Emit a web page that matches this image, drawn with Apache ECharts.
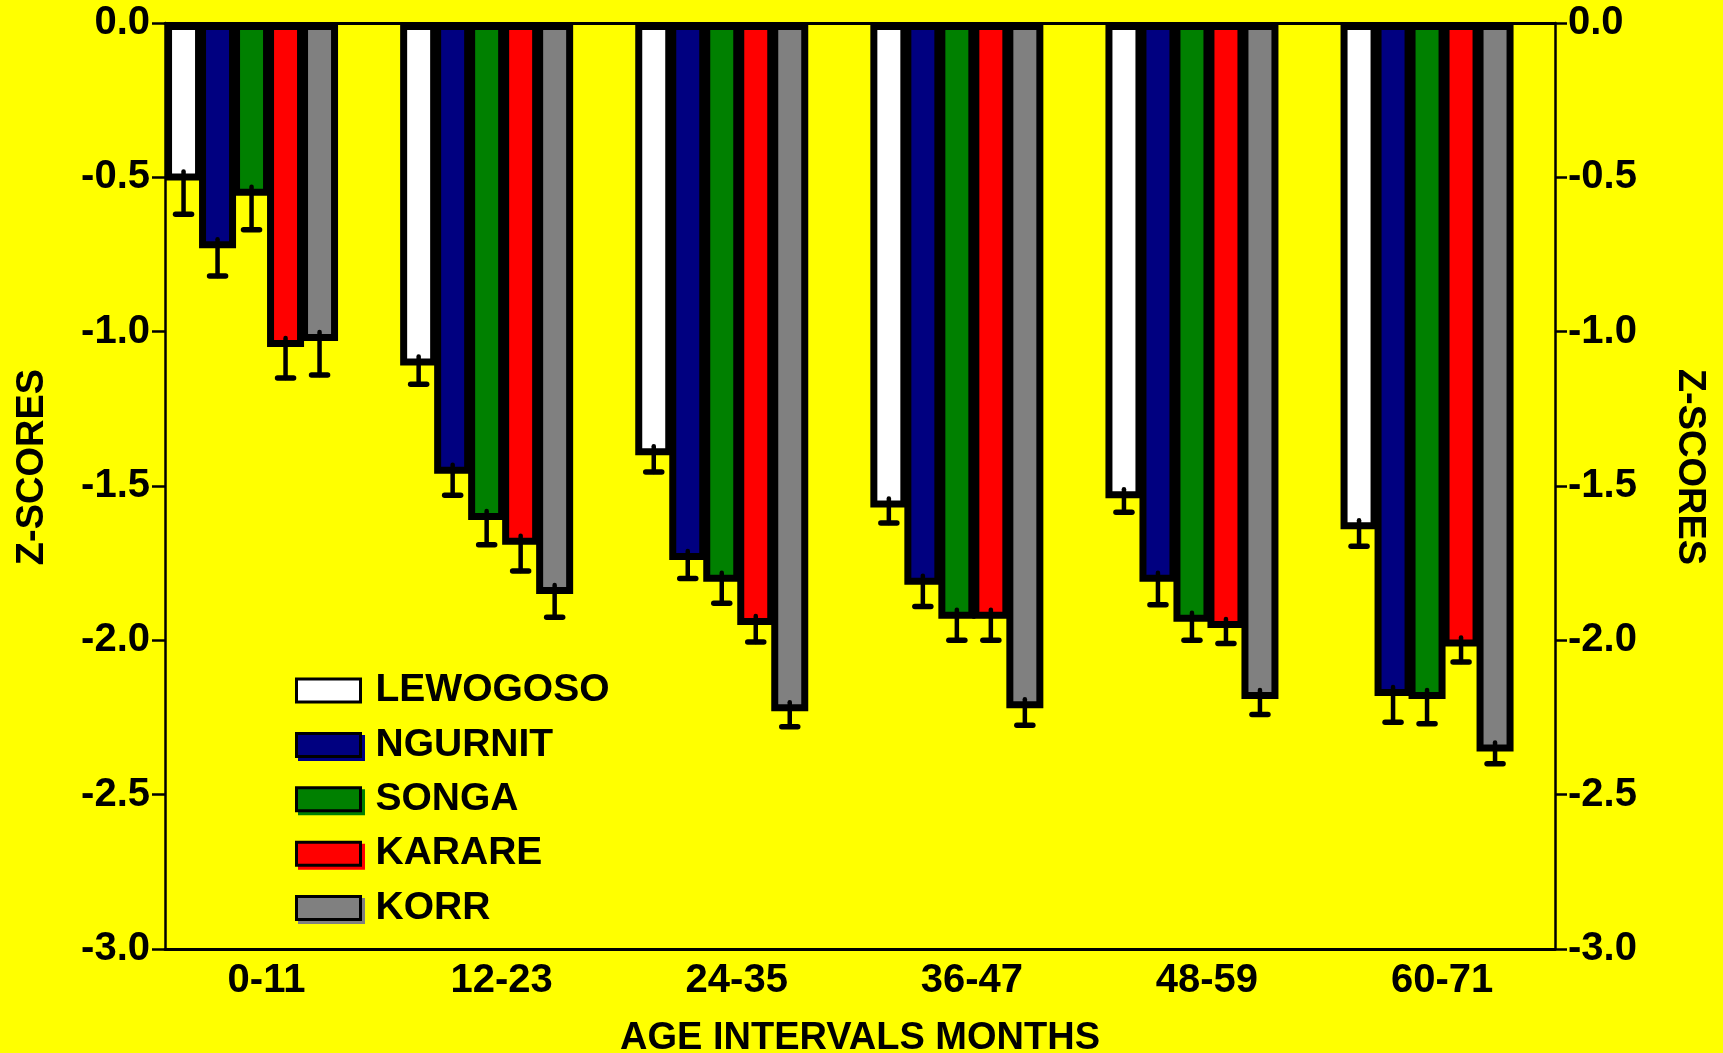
<!DOCTYPE html>
<html>
<head>
<meta charset="utf-8">
<script src="https://cdn.jsdelivr.net/npm/echarts@6/dist/echarts.min.js"></script>
<style>
html,body{margin:0;padding:0;background:#ffff00;}
#chart{width:1723px;height:1053px;}
</style>
</head>
<body>
<div id="chart"></div>
<script>
// ---------------- data ----------------
const categories = ['0-11', '12-23', '24-35', '36-47', '48-59', '60-71'];
const seriesNames = ['LEWOGOSO', 'NGURNIT', 'SONGA', 'KARARE', 'KORR'];

const lewogoso = [-0.51, -1.11, -1.40, -1.57, -1.54, -1.64];
const ngurnit  = [-0.73, -1.46, -1.74, -1.82, -1.81, -2.18];
const songa    = [-0.56, -1.61, -1.81, -1.93, -1.94, -2.19];
const karare   = [-1.05, -1.69, -1.95, -1.93, -1.96, -2.02];
const korr     = [-1.03, -1.85, -2.23, -2.22, -2.19, -2.36];

const lewogosoErr = [0.11, 0.06, 0.055, 0.05, 0.045, 0.055];
const ngurnitErr  = [0.09, 0.07, 0.06, 0.07, 0.075, 0.085];
const songaErr    = [0.11, 0.08, 0.07, 0.07, 0.06, 0.08];
const karareErr   = [0.10, 0.085, 0.055, 0.07, 0.05, 0.05];
const korrErr     = [0.11, 0.075, 0.05, 0.055, 0.05, 0.04];

const yMin = -3.0, yMax = 0.0, yStep = 0.5;

// ---------------- style ----------------
const colors = ['#ffffff', '#000080', '#008000', '#ff0000', '#808080'];
const FONT = '"Liberation Sans", Arial, Helvetica, sans-serif';
const BAR_W = 37, BAR_PITCH = 34;

const values = [lewogoso, ngurnit, songa, karare, korr];
const errors = [lewogosoErr, ngurnitErr, songaErr, karareErr, korrErr];

const barSeries = seriesNames.map((name, s) => ({
  name: name,
  type: 'bar',
  xAxisIndex: 0,
  yAxisIndex: 0,
  barWidth: BAR_W,
  barGap: ((BAR_PITCH - BAR_W) / BAR_W * 100).toFixed(3) + '%',
  data: values[s],
  itemStyle: { color: colors[s], borderColor: '#000', borderWidth: 7 },
  emphasis: { disabled: true },
  z: 2
}));

const errData = [];
values.forEach((arr, s) => arr.forEach((v, i) => errData.push([i, v, errors[s][i], s])));

const errSeries = {
  type: 'custom',
  xAxisIndex: 0,
  yAxisIndex: 0,
  data: errData,
  z: 5,
  clip: false,
  silent: true,
  renderItem: function (params, api) {
    const i = api.value(0), v = api.value(1), e = api.value(2), s = api.value(3);
    const top = api.coord([i, v]);
    const bot = api.coord([i, v - e]);
    const x = top[0] + (s - 2) * BAR_PITCH;
    return {
      type: 'group',
      children: [
        { type: 'line', shape: { x1: x, y1: top[1] - 9, x2: x, y2: bot[1] },
          style: { stroke: '#000', lineWidth: 4.5, lineCap: 'round' } },
        { type: 'line', shape: { x1: x - 8, y1: bot[1], x2: x + 8, y2: bot[1] },
          style: { stroke: '#000', lineWidth: 5.5, lineCap: 'round' } }
      ]
    };
  }
};

const tickLabelStyle = { fontFamily: FONT, fontWeight: 'bold', fontSize: 40, color: '#000' };
const titleStyle = { fontFamily: FONT, fontWeight: 'bold', fontSize: 38, color: '#000' };

const chart = echarts.init(document.getElementById('chart'), null, { renderer: 'canvas' });
chart.setOption({
  backgroundColor: '#ffff00',
  animation: false,
  grid: [
    { left: 134, right: 178.4, top: 23, bottom: 104, containLabel: false, outerBoundsMode: 'none' },   // bars
    { left: 165, right: 168, top: 23, bottom: 104, containLabel: false, outerBoundsMode: 'none' }      // frame & y axes
  ],
  legend: {
    orient: 'vertical',
    left: 295,
    top: 671,
    padding: 0,
    itemWidth: 64,
    itemHeight: 23,
    itemGap: 15.4,
    selectedMode: false,
    textStyle: { fontFamily: FONT, fontWeight: 'bold', fontSize: 39, color: '#000', padding: [0, 0, 0, 10] },
    data: seriesNames.map((n, s) => ({
      name: n,
      icon: 'rect',
      itemStyle: {
        color: colors[s], borderColor: '#000', borderWidth: 3,
        shadowColor: s === 0 ? 'rgba(0,0,0,0)' : colors[s], shadowBlur: 0,
        shadowOffsetX: 3, shadowOffsetY: 3
      }
    }))
  },
  xAxis: [
    {
      type: 'category', gridIndex: 0, data: categories, position: 'bottom',
      axisLine: { show: false, onZero: false }, axisTick: { show: false },
      splitLine: { show: false },
      axisLabel: Object.assign({ margin: 12, interval: 0, padding: [0, 0, 0, 30] }, tickLabelStyle)
    },
    {
      type: 'value', gridIndex: 1, min: 0, max: 1, position: 'bottom',
      axisLine: { show: true, onZero: false, lineStyle: { color: '#000', width: 3 } },
      axisTick: { show: false }, axisLabel: { show: false }, splitLine: { show: false },
      name: 'AGE INTERVALS MONTHS', nameLocation: 'middle', nameGap: 71,
      nameTextStyle: titleStyle
    },
    {
      type: 'value', gridIndex: 1, min: 0, max: 1, position: 'top',
      axisLine: { show: true, onZero: false, lineStyle: { color: '#000', width: 3 } },
      axisTick: { show: false }, axisLabel: { show: false }, splitLine: { show: false }
    }
  ],
  yAxis: [
    { type: 'value', gridIndex: 0, min: yMin, max: yMax, show: false },
    {
      type: 'value', gridIndex: 1, min: yMin, max: yMax, interval: yStep, position: 'left',
      axisLine: { show: true, onZero: false, lineStyle: { color: '#000', width: 2.5 } },
      axisTick: { show: true, length: 13, lineStyle: { color: '#000', width: 2.5 } },
      splitLine: { show: false },
      axisLabel: Object.assign({ margin: 15, formatter: v => v.toFixed(1) }, tickLabelStyle),
      name: 'Z-SCORES', nameLocation: 'middle', nameGap: 113, nameRotate: 90,
      nameTextStyle: Object.assign({ padding: [0, 0, 0, 38] }, titleStyle)
    },
    {
      type: 'value', gridIndex: 1, min: yMin, max: yMax, interval: yStep, position: 'right',
      axisLine: { show: true, onZero: false, lineStyle: { color: '#000', width: 2.5 } },
      axisTick: { show: true, length: 12, lineStyle: { color: '#000', width: 2.5 } },
      splitLine: { show: false },
      axisLabel: Object.assign({ margin: 13, formatter: v => v.toFixed(1) }, tickLabelStyle),
      name: 'Z-SCORES', nameLocation: 'middle', nameGap: 115, nameRotate: -90,
      nameTextStyle: Object.assign({ padding: [0, 38, 0, 0] }, titleStyle)
    }
  ],
  series: barSeries.concat([errSeries])
});
</script>
</body>
</html>
